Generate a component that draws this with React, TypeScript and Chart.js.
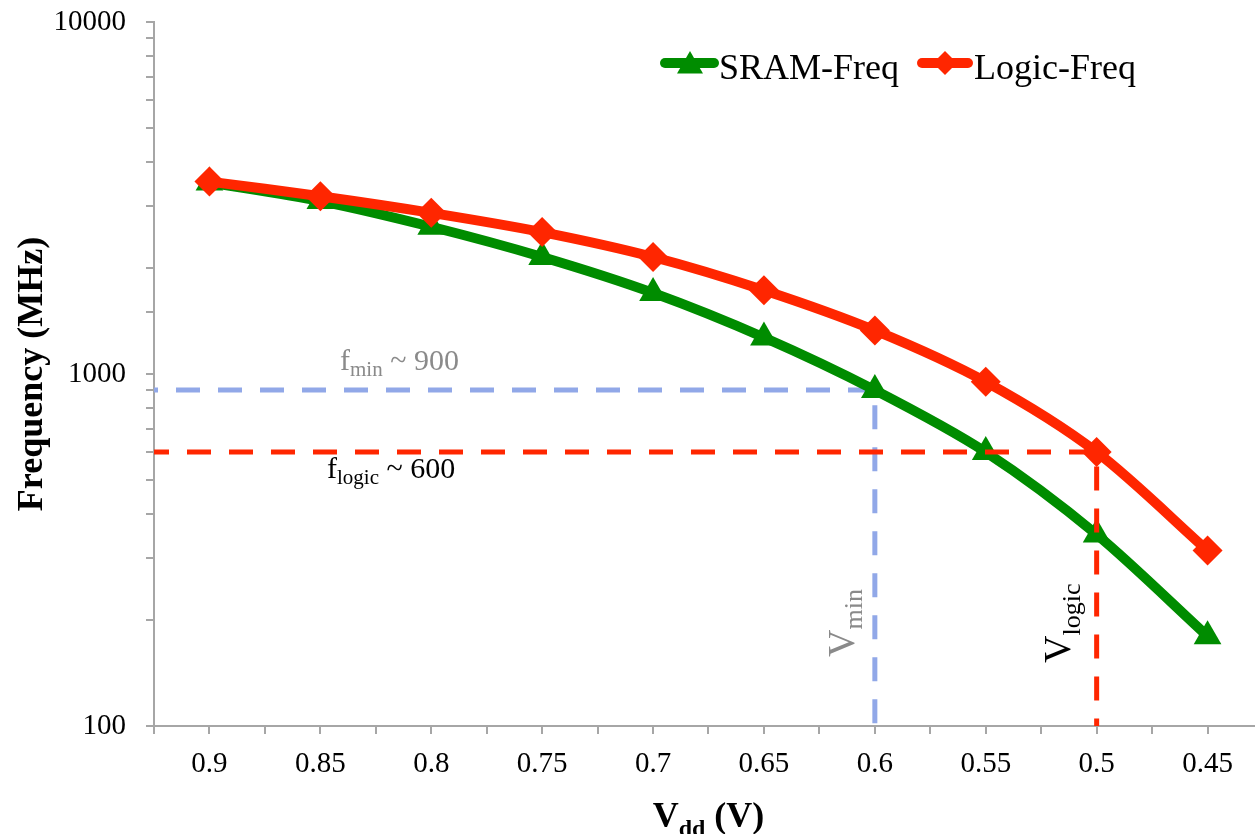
import React, { useEffect, useRef } from 'react';
import { Chart, registerables } from 'chart.js';

Chart.register(...registerables);

// ---- data ----
const vdd = [0.9, 0.85, 0.8, 0.75, 0.7, 0.65, 0.6, 0.55, 0.5, 0.45];
const sramFreq = [3500, 3100, 2620, 2150, 1700, 1270, 900, 600, 350, 180];
const logicFreq = [3520, 3200, 2870, 2530, 2150, 1730, 1330, 950, 600, 315];
const yTickLabels = [100, 1000, 10000];
const fMin = 900;
const vMin = 0.6;
const fLogic = 600;
const vLogic = 0.5;
const xMin = 0.425;
const xMax = 0.925;
const yMin = 100;
const yMax = 10000;

const GREEN = '#008c00';
const RED = '#ff2600';
const BLUE = '#91a8e8';
const GRAY_TEXT = '#8a8a8a';
const AXIS = '#a6a6a6';
const FONT = "'Liberation Serif', 'Times New Roman', serif";

type Part = { t: string; size: number; dy?: number; bold?: boolean };

function drawRich(ctx: CanvasRenderingContext2D, parts: Part[], x: number, y: number, color: string) {
  let cx = x;
  ctx.fillStyle = color;
  ctx.textBaseline = 'alphabetic';
  ctx.textAlign = 'left';
  for (const p of parts) {
    ctx.font = `${p.bold ? 'bold ' : ''}${p.size}px ${FONT}`;
    ctx.fillText(p.t, cx, y + (p.dy || 0));
    cx += ctx.measureText(p.t).width;
  }
}

function richWidth(ctx: CanvasRenderingContext2D, parts: Part[]) {
  let w = 0;
  for (const p of parts) {
    ctx.font = `${p.bold ? 'bold ' : ''}${p.size}px ${FONT}`;
    w += ctx.measureText(p.t).width;
  }
  return w;
}

function drawTriangle(ctx: CanvasRenderingContext2D, x: number, y: number, r: number, color: string) {
  ctx.beginPath();
  ctx.moveTo(x, y - r);
  ctx.lineTo(x + r * 0.866, y + r * 0.5);
  ctx.lineTo(x - r * 0.866, y + r * 0.5);
  ctx.closePath();
  ctx.fillStyle = color;
  ctx.fill();
}

function drawDiamond(ctx: CanvasRenderingContext2D, x: number, y: number, r: number, color: string) {
  ctx.beginPath();
  ctx.moveTo(x, y - r);
  ctx.lineTo(x + r, y);
  ctx.lineTo(x, y + r);
  ctx.lineTo(x - r, y);
  ctx.closePath();
  ctx.fillStyle = color;
  ctx.fill();
}

const decorPlugin = {
  id: 'decor',
  afterDraw(chart: any) {
    const ctx: CanvasRenderingContext2D = chart.ctx;
    const xs = chart.scales.x;
    const ys = chart.scales.y;
    const area = chart.chartArea;
    ctx.save();

    // annotation labels
    drawRich(ctx, [
      { t: 'f', size: 30 },
      { t: 'min', size: 21, dy: 6 },
      { t: ' ~ 900', size: 30 },
    ], area.left + 186, ys.getPixelForValue(fMin) - 20, GRAY_TEXT);

    drawRich(ctx, [
      { t: 'f', size: 30 },
      { t: 'logic', size: 21, dy: 6 },
      { t: ' ~ 600', size: 30 },
    ], area.left + 173, ys.getPixelForValue(fLogic) + 26, '#000');

    // rotated V labels
    ctx.save();
    ctx.translate(xs.getPixelForValue(vMin) - 21, area.bottom - 69);
    ctx.rotate(-Math.PI / 2);
    drawRich(ctx, [
      { t: 'V', size: 38 },
      { t: 'min', size: 26, dy: 8 },
    ], 0, 0, GRAY_TEXT);
    ctx.restore();

    ctx.save();
    ctx.translate(xs.getPixelForValue(vLogic) - 27, area.bottom - 63);
    ctx.rotate(-Math.PI / 2);
    drawRich(ctx, [
      { t: 'V', size: 38 },
      { t: 'logic', size: 26, dy: 10 },
    ], 0, 0, '#000');
    ctx.restore();

    // axis titles
    ctx.save();
    ctx.translate(42, (area.top + area.bottom) / 2);
    ctx.rotate(-Math.PI / 2);
    ctx.font = `bold 36px ${FONT}`;
    ctx.fillStyle = '#000';
    ctx.textAlign = 'center';
    ctx.textBaseline = 'alphabetic';
    ctx.fillText('Frequency (MHz)', 0, 0);
    ctx.restore();

    const xt: Part[] = [
      { t: 'V', size: 36, bold: true },
      { t: 'dd', size: 24, bold: true, dy: 9 },
      { t: ' (V)', size: 36, bold: true },
    ];
    const w = richWidth(ctx, xt);
    drawRich(ctx, xt, (area.left + area.right) / 2 - w / 2, 827, '#000');

    // legend
    const ly = 63;
    ctx.lineCap = 'round';
    ctx.lineWidth = 10;
    ctx.strokeStyle = GREEN;
    ctx.beginPath();
    ctx.moveTo(665, ly);
    ctx.lineTo(714, ly);
    ctx.stroke();
    drawTriangle(ctx, 690, ly + 3, 15, GREEN);
    drawRich(ctx, [{ t: 'SRAM-Freq', size: 36 }], 719, 79, '#000');

    ctx.strokeStyle = RED;
    ctx.beginPath();
    ctx.moveTo(922, ly);
    ctx.lineTo(968, ly);
    ctx.stroke();
    drawDiamond(ctx, 945, ly, 12, RED);
    drawRich(ctx, [{ t: 'Logic-Freq', size: 36 }], 974, 79, '#000');

    ctx.restore();
  },
};

export default function App() {
  const ref = useRef<HTMLCanvasElement | null>(null);

  useEffect(() => {
    if (!ref.current) return;
    const chart = new Chart(ref.current, {
      type: 'line',
      data: {
        datasets: [
          {
            label: 'flogic',
            data: [
              { x: xMax, y: fLogic },
              { x: vLogic, y: fLogic },
              { x: vLogic, y: yMin },
            ],
            borderColor: RED,
            borderWidth: 5,
            borderDash: [24, 18],
            borderDashOffset: 9,
            pointRadius: 0,
            tension: 0,
            fill: false,
          },
          {
            label: 'Logic-Freq',
            data: vdd.map((v, i) => ({ x: v, y: logicFreq[i] })),
            borderColor: RED,
            backgroundColor: RED,
            borderWidth: 10,
            pointStyle: 'rectRot',
            pointRadius: 15,
            pointBorderWidth: 0,
            tension: 0.3,
            fill: false,
          },
          {
            label: 'SRAM-Freq',
            data: vdd.map((v, i) => ({ x: v, y: sramFreq[i] })),
            borderColor: GREEN,
            backgroundColor: GREEN,
            borderWidth: 10,
            pointStyle: 'triangle',
            pointRadius: 16,
            pointBorderWidth: 0,
            tension: 0.3,
            fill: false,
          },
          {
            label: 'fmin',
            data: [
              { x: xMax, y: fMin },
              { x: vMin, y: fMin },
              { x: vMin, y: yMin },
            ],
            borderColor: BLUE,
            borderWidth: 5,
            borderDash: [24, 18],
            borderDashOffset: 20,
            pointRadius: 0,
            tension: 0,
            fill: false,
          },
        ],
      },
      options: {
        responsive: false,
        animation: false,
        layout: { padding: { top: 22, right: 1, left: 0, bottom: 0 } },
        plugins: {
          legend: { display: false },
          tooltip: { enabled: false },
        },
        scales: {
          x: {
            type: 'linear',
            reverse: true,
            min: xMin,
            max: xMax,
            ticks: {
              stepSize: 0.025,
              autoSkip: false,
              maxRotation: 0,
              padding: 13,
              color: '#000',
              font: { family: FONT, size: 29 },
              callback: (v: any) => {
                const m = Math.round(Number(v) * 1000);
                if (m % 50 !== 0) return '';
                return String(Math.round(Number(v) * 100) / 100);
              },
            },
            grid: {
              drawOnChartArea: false,
              drawTicks: true,
              tickLength: 8,
              color: AXIS,
              lineWidth: 2,
            },
            border: { color: AXIS, width: 2 },
            afterFit: (s: any) => {
              s.height = 108;
              s.paddingLeft = 0;
              s.paddingRight = 0;
            },
          },
          y: {
            type: 'logarithmic',
            min: yMin,
            max: yMax,
            ticks: {
              autoSkip: false,
              padding: 20,
              color: '#000',
              font: { family: FONT, size: 29 },
              callback: (v: any) => (yTickLabels.includes(Number(v)) ? String(v) : ''),
            },
            grid: {
              drawOnChartArea: false,
              drawTicks: true,
              tickLength: 8,
              color: AXIS,
              lineWidth: 2,
            },
            border: { color: AXIS, width: 2 },
            afterFit: (s: any) => {
              s.width = 154;
              s.paddingTop = 0;
              s.paddingBottom = 0;
            },
          },
        },
      },
      plugins: [decorPlugin],
    } as any);
    return () => chart.destroy();
  }, []);

  return (
    <div
      style={{
        position: 'absolute',
        left: 0,
        top: 0,
        width: 1255,
        height: 834,
        overflow: 'hidden',
        background: '#fff',
      }}
    >
      <canvas ref={ref} width={1279} height={834} style={{ display: 'block' }} />
    </div>
  );
}
